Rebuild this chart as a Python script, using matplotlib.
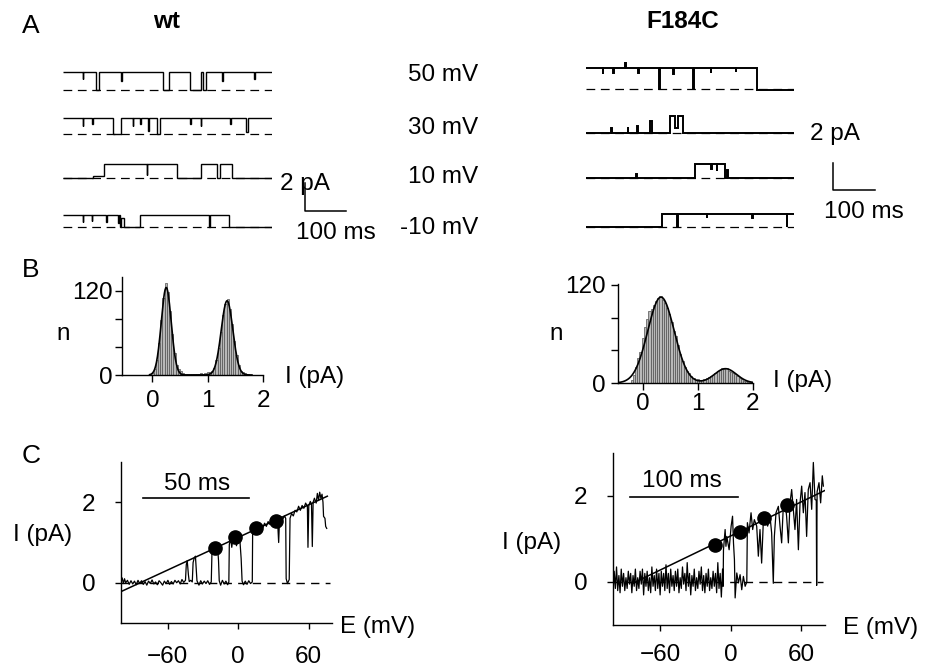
import numpy as np
import matplotlib
matplotlib.use("Agg")
import matplotlib.pyplot as plt

plt.rcParams['font.family'] = ['Liberation Sans', 'DejaVu Sans']
plt.rcParams['font.size'] = 17.5
plt.rcParams['axes.linewidth'] = 1.0

W, H = 925, 667

# ---------------- data ----------------
voltage_labels = ['50 mV', '30 mV', '10 mV', '-10 mV']

# A: single channel records, state change times (ms) and state (1 = open)
wt_amp = [1.32, 1.16, 1.0, 0.88]  # pA
wt_edges = [
    [0, 47, 48.5, 80, 87, 139, 140.5, 240, 253, 305, 330, 335, 342, 380, 382, 457, 458.5, 500],
    [0, 47, 48.5, 70, 71.5, 119, 139, 167, 168.5, 185, 186.5, 203, 205, 225, 233, 305, 306.5,
     329, 330.5, 400, 401.5, 438, 442, 500],
    [0, 72, 99, 200, 202, 272, 329, 369, 375, 405, 500],
    [0, 47, 48.5, 69, 70.5, 103, 104.5, 131, 133, 136, 139, 146, 184, 349, 351, 397, 500],
]
wt_states = [
    [1, 0.6, 1, 0, 1, 0.5, 1, 0, 1, 0, 1, 0, 1, 0.5, 1, 0.6, 1],
    [1, 0.5, 1, 0.6, 1, 0, 1, 0.5, 1, 0.6, 1, 0.2, 1, 0, 1, 0.6, 1, 0.5, 1, 0.6, 1, 0.1, 1],
    [0, 0.15, 1, 0.2, 1, 0, 1, 0, 1, 0],
    [1, 0.4, 1, 0.5, 1, 0.4, 1, 0.3, 1, 0, 0.7, 0, 1, 0, 1, 0],
]

f184c_amp = [1.55, 1.25, 1.05, 0.98]  # pA
f184c_edges = [
    [0, 40, 41.5, 66, 67.5, 93, 95, 126, 127.5, 176, 178, 210, 211.5, 258, 260, 300, 301.5,
     360, 361.5, 412, 500],
    [0, 60, 62, 100, 102, 122, 124, 154, 158, 202, 214, 222, 234, 500],
    [0, 120, 122, 262, 300, 302, 314, 316, 334, 340, 342, 500],
    [0, 182, 218, 220, 290, 292, 400, 402, 482, 484, 500],
]
f184c_states = [
    [1, 0.7, 1, 0.75, 1, 1.45, 1, 0.75, 1, 0, 1, 0.7, 1, 0, 1, 0.75, 1, 0.8, 1, -0.05],
    [0, 0.3, 0, 0.35, 0, 0.4, 0, 0.7, 0, 1, 0.3, 1, 0],
    [0, 0.3, 0, 1, 0.6, 1, 0.5, 1, 0, 0.55, 0],
    [0, 1, 0, 1, 0.7, 1, 0.7, 1, 0, 1],
]

# B: amplitude histograms (bin centres in pA, counts) and gaussian fits
hist_bin = 0.04
wt_hist_x = np.arange(0.0, 1.77, hist_bin)
wt_hist_n = [3, 8, 21, 46, 78, 110, 131, 118, 92, 59, 31, 14, 9, 6, 3, 2, 1, 2, 1, 2, 1, 2,
             3, 2, 3, 4, 5, 6, 10, 21, 38, 61, 85, 102, 108, 94, 73, 49, 28, 14, 6, 4, 3, 1, 0]
wt_fit_mu = [0.25, 1.35]
wt_fit_sd = [0.09, 0.105]
wt_fit_amp = [125, 106]

f184c_hist_x = np.arange(-0.2, 1.97, hist_bin)
f184c_hist_n = [4, 10, 20, 30, 38, 55, 68, 78, 88, 90, 95, 100, 104, 106, 102, 98, 92, 84, 74,
                64, 58, 46, 36, 27, 20, 15, 12, 8, 6, 4, 5, 4, 4, 5, 6, 7, 9, 10, 12, 15, 16,
                18, 17, 18, 15, 14, 12, 11, 8, 6, 5, 3, 2, 1, 1]
f184c_fit_mu = [0.33, 1.5]
f184c_fit_sd = [0.24, 0.2]
f184c_fit_amp = [105, 17.5]

# C: ramp records (E mV, I pA), linear fits and step amplitudes
wt_ramp = [
    (-100, 0.05), (-99, 0.12), (-98, -0.02), (-97, 0.1), (-96, 0.0), (-94.5, 0.06), (-93, -0.04),
    (-91.5, 0.05), (-90, -0.03), (-88.5, 0.04), (-87, -0.05), (-85.5, 0.06), (-84, -0.02),
    (-82.5, 0.05), (-81, -0.04), (-79.5, 0.03), (-78, -0.06), (-76.5, 0.04), (-75, -0.02),
    (-73.5, 0.07), (-72, -0.03), (-70.5, 0.02), (-69, -0.05), (-67.5, 0.05), (-66, 0.0),
    (-64.5, -0.06), (-63, 0.04), (-61.5, -0.02), (-60, 0.06), (-58.5, -0.04), (-57, 0.03),
    (-55.5, -0.03), (-54, 0.06), (-52.5, 0.0), (-51, 0.05), (-49.5, -0.03), (-48, 0.08),
    (-46.5, 0.01), (-45, 0.06), (-44.3, 0.45), (-43.5, 0.55), (-42.5, 0.2), (-41.8, 0.03),
    (-40.5, 0.06), (-39.2, 0.02), (-38.5, 0.5), (-37.5, 0.62), (-36.5, 0.66), (-35.8, 0.35),
    (-35.2, 0.05), (-33.5, -0.06), (-32, 0.05), (-30.5, -0.03), (-29, 0.04), (-27.5, -0.02),
    (-26, 0.05), (-24.5, -0.04), (-23, 0.02), (-22.4, 0.75), (-21.5, 0.85), (-20.5, 0.72),
    (-19.5, 0.88), (-18.5, 0.78), (-17.5, 0.84), (-16.8, 0.55), (-16.2, 0.05), (-15, -0.06),
    (-13.5, 0.06), (-12, -0.03), (-10.5, 0.04), (-9, -0.05), (-8, 0.02), (-7.6, 0.95),
    (-6.5, 1.1), (-5.5, 0.88), (-4.5, 1.12), (-3, 1.16), (-1.5, 0.92), (0, 1.1), (1.5, 1.02),
    (2.5, 0.6), (3.3, 0.04), (4.5, -0.05), (6, 0.04), (7.5, -0.04), (9, 0.05), (10.5, -0.02),
    (12, 0.02), (12.3, 1.28), (13.5, 1.38), (15, 1.32), (16.5, 1.4), (18, 1.34), (19.5, 1.42),
    (21, 1.37), (22.5, 1.48), (24, 1.4), (25.5, 1.52), (27, 1.45), (28.5, 1.55), (30, 1.5),
    (31, 1.58), (32.5, 1.52), (33.5, 1.58), (34.5, 1.0), (35.2, 1.55), (36.5, 1.64),
    (38, 1.58), (39.5, 1.66), (40.5, 1.6), (40.9, 0.1), (42, -0.02), (43.5, 0.08), (44.2, 1.6),
    (45.5, 1.72), (47, 1.66), (48.5, 1.8), (50, 1.76), (51.5, 1.9), (53, 1.8), (54.5, 1.92),
    (56, 1.85), (57.5, 1.98), (59, 1.9), (59.5, 0.88), (60.2, 1.92), (61.5, 2.02), (62.5, 1.95),
    (63.2, 0.9), (63.9, 2.0), (65, 2.1), (66.5, 1.98), (67.5, 2.22), (68.5, 2.05), (69.5, 2.25),
    (70.5, 2.1), (71.5, 2.2), (72.3, 2.0), (72.8, 1.65), (74, 1.6), (74.6, 1.4), (75.5, 1.35),
]
wt_fit_line = [(-100, -0.22), (76, 2.15)]
wt_dots_E = [-20, -3, 15, 32]
wt_dots_I = [0.86, 1.13, 1.37, 1.53]

f184c_ramp = [
    (-100, -0.3), (-99, 0.25), (-98, -0.15), (-97, 0.35), (-96, -0.2), (-95, 0.15), (-94, -0.25),
    (-93, 0.3), (-92, -0.1), (-91, 0.2), (-90, -0.2), (-89, 0.1), (-88, -0.15), (-87, 0.25),
    (-86, -0.05), (-85, 0.2), (-84, -0.25), (-83, 0.15), (-82, -0.1), (-81, 0.3), (-80, -0.2),
    (-79, 0.1), (-78, -0.15), (-77, 0.25), (-76, -0.05), (-75, 0.3), (-74, -0.3), (-73, 0.2),
    (-72, -0.1), (-71, 0.25), (-70, -0.2), (-69, 0.1), (-68, -0.25), (-67, 0.35), (-66, -0.1),
    (-65, 0.15), (-64, -0.2), (-63, 0.3), (-62, -0.15), (-61, 0.2), (-60, -0.3), (-59, 0.25),
    (-58, -0.1), (-57, 0.2), (-56, -0.2), (-55, 0.4), (-54, -0.15), (-53, 0.2), (-52, -0.25),
    (-51, 0.3), (-50, -0.1), (-49, 0.15), (-48, -0.2), (-47, 0.25), (-46, -0.1), (-45, 0.3),
    (-44, -0.25), (-43, 0.1), (-42, -0.15), (-41, 0.35), (-40, -0.05), (-39, 0.2), (-38, -0.2),
    (-37, 0.45), (-36, -0.1), (-35, 0.2), (-34, -0.3), (-33, 0.15), (-32, -0.1), (-31, 0.3),
    (-30, -0.2), (-29, 0.1), (-28, -0.15), (-27, 0.25), (-26, -0.05), (-25, 0.35), (-24, -0.2),
    (-23, 0.15), (-22, -0.25), (-21, 0.2), (-20, -0.1), (-19, 0.3), (-18, -0.2), (-17, 0.1),
    (-16, -0.15), (-15, 0.25), (-14, -0.1), (-13, 0.2), (-12, -0.25), (-11, 0.45), (-10, -0.15),
    (-9, 0.2), (-8, -0.35), (-7, 0.3), (-6.5, -0.1), (-6.2, 0.75), (-4.8, 1.22), (-4.1, 0.83),
    (-3.4, 1.06), (-1.4, 0.75), (0.3, 1.3), (1.5, 1.53), (2.3, 0.91), (3.1, 0.52), (3.7, -0.37),
    (5.1, 0.21), (6.5, -0.02), (7.9, 0.17), (9.3, -0.18), (10.7, 0.13), (12.2, -0.1),
    (13.6, 0.0), (14.1, 1.38), (15.5, 1.14), (17.2, 1.61), (18.6, 1.22), (20.0, 1.45),
    (22, 1.3), (23.4, 0.6), (24.8, 1.22), (26.2, 0.44), (27.6, 1.38), (29.1, 1.61), (31.3, 1.3),
    (33.3, 1.53), (34.7, 1.14), (36.1, -0.03), (37.0, 1.06), (38.4, 1.61), (40.4, 1.76),
    (41.8, 1.3), (43.2, 0.91), (44.6, 1.76), (46.0, 1.92), (47.4, 1.53), (48.9, 0.91),
    (50.3, 1.84), (51.7, 2.15), (53.1, 1.69), (54.5, 1.22), (55.9, 1.92), (57.4, 0.75),
    (58.8, 1.84), (60.2, 2.23), (61.6, 1.61), (63.0, 2.08), (64.4, 1.06), (65.8, 2.15),
    (67.3, 2.31), (68.7, 1.69), (70.1, 2.78), (71.5, 1.92), (72.6, 1.9), (72.9, -0.08),
    (73.3, 2.1), (74.9, 2.31), (76.3, 1.84), (77.7, 2.47), (78.6, 2.23),
]
f184c_fit_line = [(-84, -0.04), (80, 2.13)]
f184c_dots_E = [-13, 8, 28, 48]
f184c_dots_I = [0.87, 1.16, 1.48, 1.8]


# ---------------- helpers (pixel layout) ----------------
fig = plt.figure(figsize=(W / 100, H / 100), dpi=100)


def add_ax(l, t, r, b):
    return fig.add_axes([l / W, 1 - b / H, (r - l) / W, (b - t) / H])


def txt(px, py, s, **kw):
    kw.setdefault('ha', 'center')
    kw.setdefault('va', 'center')
    fig.text(px / W, 1 - py / H, s, **kw)


def fig_line(xs, ys, **kw):
    fig.add_artist(plt.Line2D([x / W for x in xs], [1 - y / H for y in ys],
                              color='k', **kw))


def gauss_sum(x, mus, sds, amps):
    y = np.zeros_like(x)
    for m, s, a in zip(mus, sds, amps):
        y += a * np.exp(-0.5 * ((x - m) / s) ** 2)
    return y


def style_axes(ax):
    for side in ['top', 'right']:
        ax.spines[side].set_visible(False)
    ax.tick_params(direction='out', width=1.0)


# ---------------- A: traces ----------------
txt(31, 26, 'A', fontsize=19)
txt(167, 21, 'wt', fontweight='bold')
txt(683, 21, 'F184C', fontweight='bold')

wt_rows = [90, 134, 178, 227]
f_rows = [89, 133, 178, 227]
for i in range(4):
    # wt, 13.85 px per pA
    ax = add_ax(63, wt_rows[i] - 2 * 13.85, 272, wt_rows[i] + 13.85)
    ax.stairs(np.array(wt_states[i]) * wt_amp[i], wt_edges[i], baseline=None,
              color='k', lw=1.0)
    ax.axhline(0, color='k', lw=0.9, dashes=(7, 4.5))
    ax.set_xlim(0, 500)
    ax.set_ylim(-1, 2)
    ax.axis('off')
    # F184C, 13.5 px per pA
    ax = add_ax(586, f_rows[i] - 2 * 13.5, 794, f_rows[i] + 13.5)
    ax.stairs(np.array(f184c_states[i]) * f184c_amp[i], f184c_edges[i], baseline=None,
              color='k', lw=1.4)
    ax.axhline(0, color='k', lw=0.9, dashes=(7, 4.5))
    ax.set_xlim(0, 500)
    ax.set_ylim(-1, 2)
    ax.axis('off')
    txt(478, [75, 128, 177, 228][i], voltage_labels[i], ha='right')

# scale bars 2 pA / 100 ms
for l, b, px_ms, px_pa in [(305, 211, 0.414, 13.85), (833, 190, 0.416, 13.5)]:
    ax = add_ax(l, b - 2 * px_pa, l + 100 * px_ms, b)
    ax.plot([0, 0, 100], [2, 0, 0], color='k', lw=1.1, clip_on=False)
    ax.set_xlim(0, 100)
    ax.set_ylim(0, 2)
    ax.axis('off')
txt(305, 184, '2 pA')
txt(336, 233, '100 ms')
txt(835, 134, '2 pA')
txt(864, 212, '100 ms')

# ---------------- B: histograms ----------------
txt(31, 270, 'B', fontsize=19)
hist_specs = [
    ((122, 277, 263, 375), (-0.55, 2.0), (0, 140), wt_hist_x, wt_hist_n,
     (wt_fit_mu, wt_fit_sd, wt_fit_amp), (-0.05, 1.8), 2, 6),
    ((618, 284, 753, 383), (-0.45, 2.0), (0, 121), f184c_hist_x, f184c_hist_n,
     (f184c_fit_mu, f184c_fit_sd, f184c_fit_amp), (-0.45, 2.0), 4, 2),
]
for box, xl, yl, hx, hn, fit, frange, ypad, xpad in hist_specs:
    ax = add_ax(*box)
    ax.bar(hx, hn, width=hist_bin, color='#b8b8b8', edgecolor='#505050', linewidth=0.5)
    xs = np.linspace(frange[0], frange[1], 300)
    ax.plot(xs, gauss_sum(xs, *fit), color='k', lw=1.2)
    ax.set_xlim(*xl)
    ax.set_ylim(*yl)
    ax.set_xticks([0, 1, 2])
    ax.set_yticks([0, 40, 80, 120], ['0', '', '', '120'])
    style_axes(ax)
    ax.tick_params(axis='y', length=5, pad=ypad)
    ax.tick_params(axis='x', length=5, pad=xpad)
txt(63, 334, 'n')
txt(556, 334, 'n')
txt(285, 377, 'I (pA)', ha='left')
txt(773, 381, 'I (pA)', ha='left')

# ---------------- C: ramps ----------------
txt(31, 456, 'C', fontsize=19)
ramp_specs = [
    ((121, 462, 332, 623), wt_ramp, wt_fit_line, wt_dots_E, wt_dots_I, 12),
    ((613, 453, 825, 625), f184c_ramp, f184c_fit_line, f184c_dots_E, f184c_dots_I, 9),
]
for box, ramp, fit_line, dE, dI, xpad in ramp_specs:
    ax = add_ax(*box)
    E = [p[0] for p in ramp]
    I = [p[1] for p in ramp]
    ax.axhline(0, xmax=0.99, color='k', lw=1.0, dashes=(6, 4.5))
    ax.plot(E, I, color='k', lw=0.9)
    ax.plot([p[0] for p in fit_line], [p[1] for p in fit_line], color='k', lw=1.1)
    ax.plot(dE, dI, 'o', color='k', ms=9.5)
    ax.set_xlim(-100, 80)
    ax.set_ylim(-1, 3)
    ax.set_xticks([-60, 0, 60])
    ax.set_yticks([0, 2])
    style_axes(ax)
    ax.tick_params(axis='y', length=4.5, pad=14)
    ax.tick_params(axis='x', length=4.5, pad=xpad)

txt(43, 535, 'I (pA)')
txt(532, 543, 'I (pA)')
txt(340, 627, 'E (mV)', ha='left')
txt(843, 628, 'E (mV)', ha='left')

# time scale bars on the ramps
fig_line([143, 249], [498, 498], lw=1.2)
txt(197, 484, '50 ms')
fig_line([630, 738], [497, 497], lw=1.2)
txt(682, 481, '100 ms')

fig.savefig('out.png', dpi=100)
